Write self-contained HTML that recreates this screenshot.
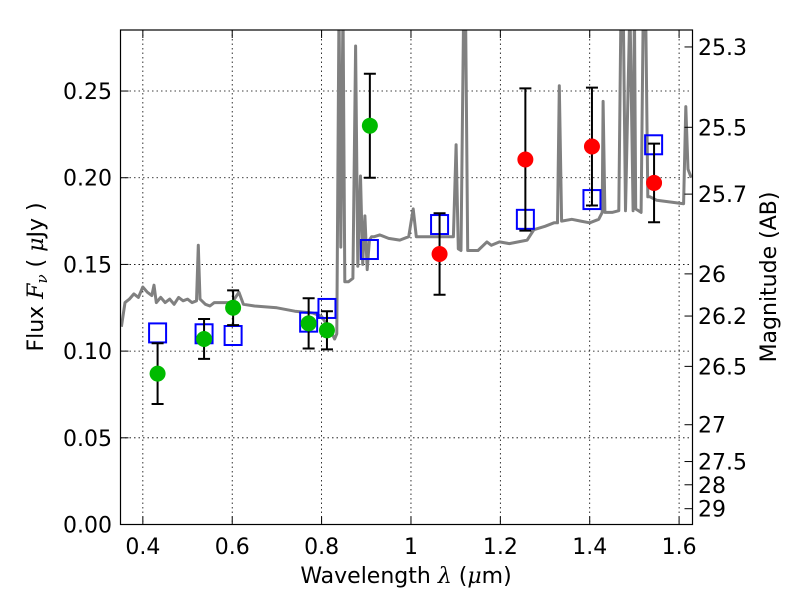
<!DOCTYPE html>
<html><head><meta charset="utf-8">
<style>
body{margin:0;background:#fff;}
svg{display:block;font-family:"DejaVu Sans","Liberation Sans",sans-serif;}
</style></head>
<body>
<svg id="chart" width="800" height="600" viewBox="0 0 800 600">
<rect width="800" height="600" fill="#fff"/>
<g id="grid"></g>
<g id="spec"></g>
<g id="marks"></g>
<rect x="120.5" y="30" width="572" height="494.5" fill="none" stroke="#000" stroke-width="1.2"/>
<g id="axes"></g>
<text x="406" y="583" font-size="22" text-anchor="middle">Wavelength  <tspan font-style="italic" font-family="'DejaVu Serif',serif">λ</tspan> (<tspan font-style="italic" font-family="'DejaVu Serif',serif">μ</tspan>m)</text>
<text transform="translate(43,277) rotate(-90)" font-size="22" text-anchor="middle">Flux  <tspan font-style="italic" font-family="'DejaVu Serif',serif">F<tspan font-size="15" dy="4">ν</tspan></tspan><tspan dy="-4">   ( </tspan><tspan font-style="italic" font-family="'DejaVu Serif',serif">μ</tspan>Jy )</text>
<text transform="translate(776,277) rotate(-90)" font-size="22" text-anchor="middle">Magnitude (AB)</text>
</svg>
<script>
const xTicks=[0.4,0.6,0.8,1.0,1.2,1.4,1.6];
const xTickLabels=["0.4","0.6","0.8","1","1.2","1.4","1.6"];
const yTicks=[0,0.05,0.10,0.15,0.20,0.25];
const yTickLabels=["0.00","0.05","0.10","0.15","0.20","0.25"];
const magTicks=[25.3,25.5,25.7,26,26.2,26.5,27,27.5,28,29];
const magTickLabels=["25.3","25.5","25.7","26","26.2","26.5","27","27.5","28","29"];
const specWave=[0.352,0.36,0.37,0.38,0.39,0.40,0.41,0.42,0.425,0.43,0.44,0.45,0.46,0.47,0.48,0.49,0.50,0.51,0.52,0.524,0.528,0.54,0.55,0.56,0.58,0.60,0.615,0.625,0.65,0.70,0.74,0.78,0.80,0.82,0.829,0.834,0.839,0.843,0.848,0.852,0.86,0.87,0.876,0.881,0.887,0.892,0.897,0.902,0.907,0.912,0.918,0.93,0.95,0.975,0.995,1.005,1.012,1.02,1.04,1.06,1.08,1.095,1.101,1.106,1.112,1.118,1.122,1.127,1.132,1.15,1.17,1.18,1.198,1.22,1.26,1.275,1.30,1.32,1.328,1.332,1.337,1.36,1.38,1.40,1.42,1.428,1.430,1.434,1.45,1.465,1.47,1.475,1.48,1.49,1.497,1.50,1.503,1.515,1.52,1.525,1.53,1.535,1.55,1.58,1.61,1.615,1.62,1.627];
const specFlux=[0.114,0.128,0.130,0.133,0.131,0.137,0.134,0.132,0.138,0.128,0.131,0.128,0.130,0.127,0.131,0.129,0.130,0.128,0.129,0.161,0.130,0.127,0.126,0.128,0.128,0.128,0.134,0.127,0.126,0.125,0.123,0.122,0.120,0.112,0.107,0.110,0.30,0.16,0.30,0.14,0.140,0.142,0.276,0.149,0.201,0.150,0.178,0.147,0.164,0.166,0.166,0.167,0.165,0.164,0.166,0.182,0.166,0.166,0.166,0.166,0.166,0.166,0.219,0.159,0.158,0.30,0.30,0.158,0.158,0.158,0.163,0.161,0.163,0.162,0.164,0.170,0.172,0.174,0.174,0.253,0.175,0.176,0.175,0.174,0.176,0.180,0.244,0.180,0.180,0.181,0.30,0.30,0.181,0.30,0.181,0.30,0.182,0.180,0.30,0.30,0.189,0.189,0.187,0.186,0.185,0.241,0.205,0.200];
const greenWave=[0.433,0.537,0.602,0.771,0.812,0.908];
const greenFlux=[0.087,0.107,0.125,0.116,0.112,0.230];
const greenErr=[0.0175,0.0115,0.010,0.0145,0.011,0.030];
const redWave=[1.064,1.256,1.405,1.544];
const redFlux=[0.156,0.2105,0.218,0.197];
const redErr=[0.0235,0.041,0.034,0.0227];
const boxWave=[0.433,0.537,0.602,0.771,0.812,0.907,1.064,1.256,1.405,1.543];
const boxFlux=[0.1105,0.110,0.109,0.1167,0.1246,0.1586,0.173,0.176,0.1874,0.219];

const X0=120.5,X1=692.5,Y0=524.5,Y1=30,XMIN=0.35,XMAX=1.63,YMAX=0.2852;
const xs=v=>X0+(v-XMIN)/(XMAX-XMIN)*(X1-X0);
const ys=v=>Y0-v/YMAX*(Y0-Y1);
const magToFlux=m=>Math.pow(10,(23.9-m)/2.5);
const NS="http://www.w3.org/2000/svg";
function mk(tag,attrs,parent){const e=document.createElementNS(NS,tag);for(const k in attrs)e.setAttribute(k,attrs[k]);parent.appendChild(e);return e;}
const grid=document.getElementById('grid'),axes=document.getElementById('axes'),spec=document.getElementById('spec'),marks=document.getElementById('marks');

xTicks.forEach((t,i)=>{const x=xs(t);
 const g=mk('line',{x1:x,x2:x,y1:Y1,y2:Y0,stroke:'#000','stroke-width':0.8,'stroke-dasharray':'1.5,3'},grid);
 
 
 mk('line',{x1:x,x2:x,y1:Y0,y2:Y0-8,stroke:'#000','stroke-width':1},axes);
 mk('line',{x1:x,x2:x,y1:Y1,y2:Y1+8,stroke:'#000','stroke-width':1},axes);
 const tx=mk('text',{x:x,y:554,'font-size':22,'text-anchor':'middle'},axes);tx.textContent=xTickLabels[i];
 
 
});
yTicks.forEach((t,i)=>{const y=ys(t);
 const g=mk('line',{x1:X0,x2:X1,y1:y,y2:y,stroke:'#000','stroke-width':0.8,'stroke-dasharray':'1.5,3'},grid);
 
 
 mk('line',{x1:X0,x2:X0+8,y1:y,y2:y,stroke:'#000','stroke-width':1},axes);
 const tx=mk('text',{x:112,y:y+8,'font-size':22,'text-anchor':'end'},axes);tx.textContent=yTickLabels[i];
 
 
});
magTicks.forEach((m,i)=>{const y=ys(magToFlux(m));
 mk('line',{x1:X1-8,x2:X1,y1:y,y2:y,stroke:'#000','stroke-width':1},axes);
 const tx=mk('text',{x:698,y:y+8,'font-size':22},axes);tx.textContent=magTickLabels[i];
 
 
});
const clip=mk('clipPath',{id:'pc'},document.getElementById('chart'));
mk('rect',{x:X0,y:Y1,width:X1-X0,height:Y0-Y1},clip);
spec.setAttribute('clip-path','url(#pc)');
marks.setAttribute('clip-path','url(#pc)');
const pts=specWave.map((w,i)=>xs(w).toFixed(1)+','+ys(specFlux[i]).toFixed(1)).join(' ');
const pl=mk('polyline',{points:pts,fill:'none',stroke:'#808080','stroke-width':3,'stroke-linejoin':'round'},spec);



boxWave.forEach((w,i)=>{const x=xs(w),y=ys(boxFlux[i]);
 const r=mk('rect',{x:x-8.5,y:y-9.5,width:17,height:19,fill:'none',stroke:'#0000ff','stroke-width':2},marks);
 
 
});
function errbar(x,f,e){const y1=ys(f-e),y2=ys(f+e);
 const l=mk('path',{d:`M${x},${y1}V${y2}M${x-6},${y1}H${x+6}M${x-6},${y2}H${x+6}`,stroke:'#000','stroke-width':2,fill:'none'},marks);
 
 
}
greenWave.forEach((w,i)=>{const x=xs(w);errbar(x,greenFlux[i],greenErr[i]);
 const c=mk('circle',{cx:x,cy:ys(greenFlux[i]),r:8,fill:'#00bb00'},marks);
 
 
});
redWave.forEach((w,i)=>{const x=xs(w);errbar(x,redFlux[i],redErr[i]);
 const c=mk('circle',{cx:x,cy:ys(redFlux[i]),r:8,fill:'#ff0000'},marks);
 
 
});
</script>
</body></html>
